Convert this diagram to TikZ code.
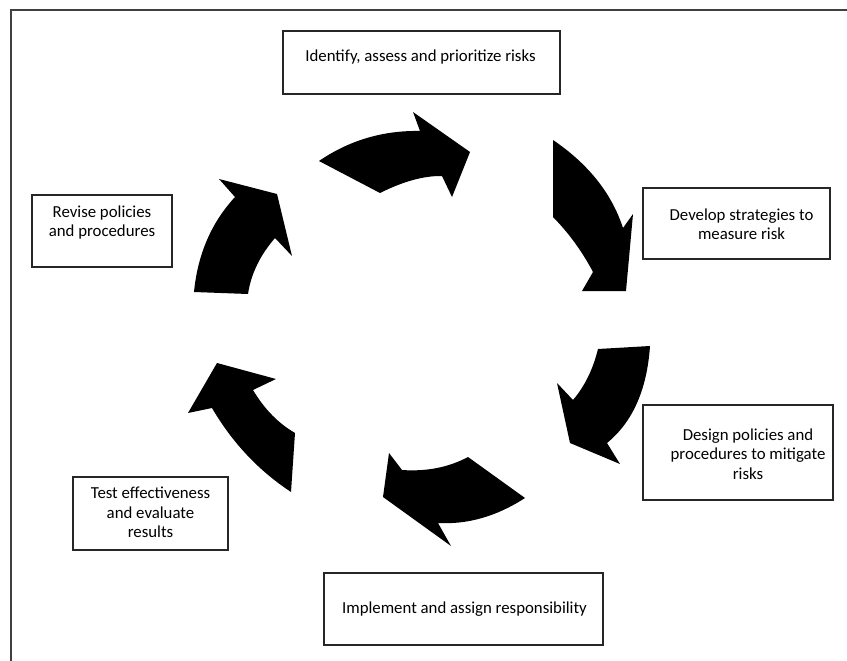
\documentclass[tikz,border=0pt]{standalone}
\usepackage{fontspec}
\setmainfont{Carlito}

\tikzset{
  box/.style={draw=black!85, line width=1.6pt, inner sep=0pt, outer sep=0pt},
  txt/.style={align=center, inner sep=0pt, font=\fontsize{16.8}{19.5}\selectfont},
  frame/.style={draw=black!75, line width=1.8pt}
}

\begin{document}
\begin{tikzpicture}[x=1pt,y=-1pt]
   \useasboundingbox (0,0) rectangle (847,661);
   \draw[frame] (847,10) -- (11,10) -- (11,661);
   % the boxes
   \node[box, minimum width=277, minimum height=63] (identify)  at (421.5,62.5) {};
   \node[box, minimum width=187, minimum height=71] (develop)   at (736.5,223.5) {};
   \node[box, minimum width=190, minimum height=95] (design)    at (738,452.5) {};
   \node[box, minimum width=279, minimum height=72] (implement) at (463.5,609) {};
   \node[box, minimum width=155, minimum height=73] (test)      at (150.5,513.5) {};
   \node[box, minimum width=140, minimum height=72] (revise)    at (102,231) {};
   \node[txt] (identifytext)  at (420.5,57)  {Identify, assess and prioritize risks};
   \node[txt] (developtext)   at (741.5,224) {Develop strategies to\\measure risk};
   \node[txt] (designtext)    at (748,454)   {Design policies and\\procedures to mitigate\\risks};
   \node[txt] (implementtext) at (464.5,609) {Implement and assign responsibility};
   \node[txt] (testtext)      at (150.5,512.5) {Test effectiveness\\and evaluate\\results};
   \node[txt] (revisetext)    at (102,222.5) {Revise policies\\and procedures};
   % the cycle arrows
   \fill (319,161) .. controls (349.3,140.3) and (383,130.3) .. (420,131)
      -- (413,112) -- (470,152) -- (452,197) -- (442,176)
      .. controls (424,175.7) and (403.3,181.3) .. (380,193) -- cycle;
   \fill (553,140) .. controls (588.3,164) and (611.7,193.3) .. (623,228)
      -- (633,214) -- (626,291) -- (582,291) -- (593,272)
      .. controls (582.3,251.7) and (569,233.3) .. (553,217) -- cycle;
   \fill (650,346) -- (598,349) .. controls (593,369.3) and (584.7,386.3) .. (573,400)
      -- (557,383) -- (570,443) -- (620,464) -- (607,443)
      .. controls (632.7,422) and (647,389.7) .. (650,346) -- cycle;
   \fill (525,498) -- (468,457) .. controls (448.7,467.3) and (426.7,471.7) .. (402,470)
      -- (389,453) -- (383,497) -- (451,546) -- (438,523)
      .. controls (467.7,524.7) and (496.7,516.3) .. (525,498) -- cycle;
   \fill (291,492) .. controls (258.7,470.7) and (232.3,442.7) .. (212,408)
      -- (188,413) -- (217,363) -- (276,379) -- (253,390)
      .. controls (264.3,409) and (278.3,423.3) .. (295,433) -- cycle;
   \fill (248,294) .. controls (251,274) and (260,255.3) .. (275,238)
      -- (292,256) -- (277,194) -- (219,179) -- (235,197)
      .. controls (211.3,222.7) and (197.7,254.3) .. (194,292) -- cycle;
\end{tikzpicture}
\end{document}
